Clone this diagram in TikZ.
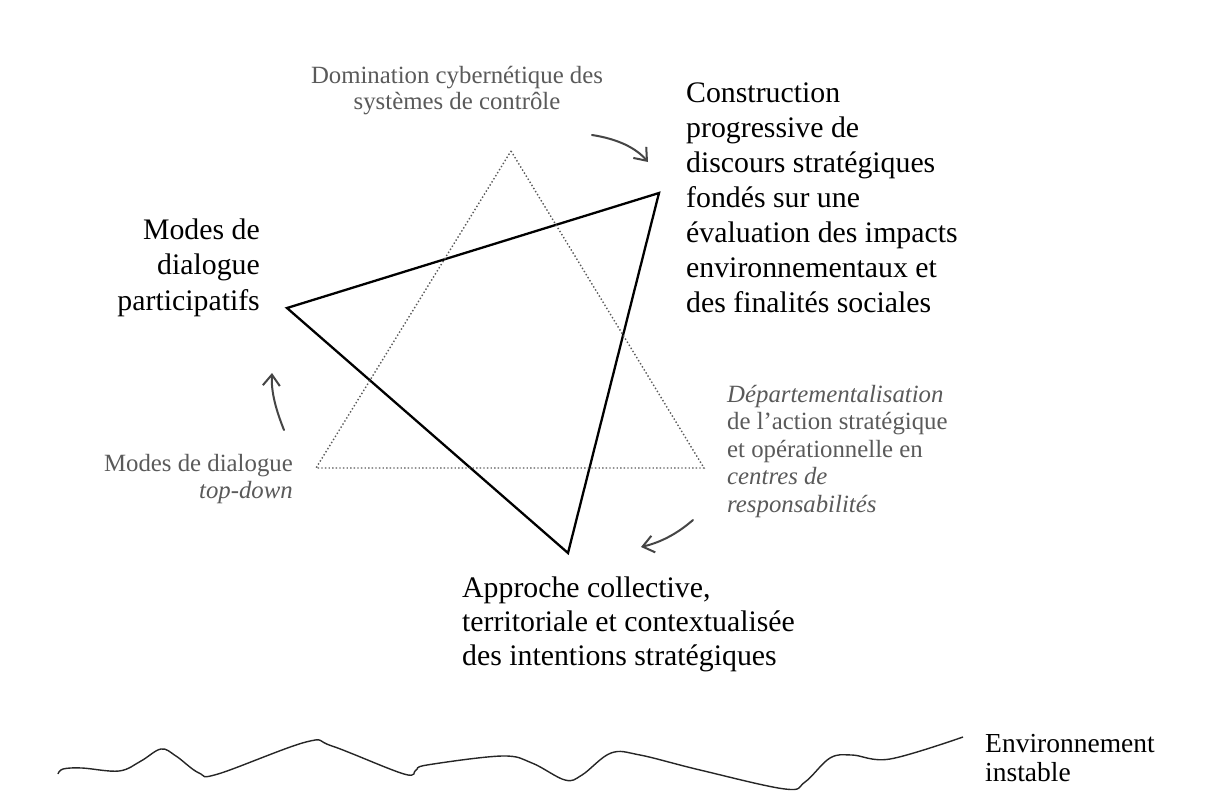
\documentclass[tikz,border=0pt]{standalone}
\usepackage{fontspec}
\setmainfont{Liberation Serif}
\usetikzlibrary{arrows.meta}
\definecolor{softgray}{HTML}{5A5A5A}
\definecolor{arrowgray}{HTML}{454545}
\tikzset{
  mainlabel/.style={inner sep=0pt, text=black, font=\fontsize{29.8}{35}\selectfont},
  sidelabel/.style={inner sep=0pt, text=softgray, font=\fontsize{24.8}{27}\selectfont},
  solidtri/.style={draw=black, line width=2.3pt, line join=miter},
  dottedtri/.style={draw=softgray, line width=1.4pt, dash pattern=on 1.4pt off 2.2pt},
  bentarrow/.style={draw=arrowgray, line width=2pt, line cap=round,
    -{Straight Barb[length=11pt,width=17pt,line width=2pt]}},
  wave/.style={draw=black!85, line width=1.4pt}
}
\begin{document}
\begin{tikzpicture}[x=1pt,y=-1pt]
\useasboundingbox (0,0) rectangle (1217,803);
\fill[white] (0,0) rectangle (1217,803);

% solid triangle
\coordinate (sA) at (287,308);
\coordinate (sB) at (659,193);
\coordinate (sC) at (568,553);
\draw[solidtri] (sA) -- (sB) -- (sC) -- cycle;

% dotted triangle
\coordinate (dA) at (511,151);
\coordinate (dB) at (704,468);
\coordinate (dC) at (316,468);
\draw[dottedtri] (dA) -- (dB) -- (dC) -- cycle;

% labels (base anchor = baseline of the last line)
\node[sidelabel, anchor=base, align=center, font=\fontsize{24.8}{26}\selectfont] (domin) at (457,109)
  {Domination cybernétique des\\systèmes de contrôle};
\node[mainlabel, anchor=base west, align=left] (constr) at (686,312)
  {Construction\\progressive de\\discours stratégiques\\fondés sur une\\évaluation des impacts\\environnementaux et\\des finalités sociales};
\node[mainlabel, anchor=base east, align=right, font=\fontsize{29.8}{35.5}\selectfont] (particip) at (260,310)
  {Modes de\\dialogue\\participatifs};
\node[sidelabel, anchor=base east, align=right] (topdown) at (293,498)
  {Modes de dialogue\\\textit{top-down}};
\node[sidelabel, anchor=base west, align=left, font=\fontsize{24.8}{27.5}\selectfont] (depart) at (727,512)
  {\textit{Départementalisation}\\de l’action stratégique\\et opérationnelle en\\\textit{centres de}\\\textit{responsabilités}};
\node[mainlabel, anchor=base west, align=left, font=\fontsize{29.8}{34}\selectfont] (approche) at (462,665)
  {Approche collective,\\territoriale et contextualisée\\des intentions stratégiques};
\node[mainlabel, anchor=base west, align=left, font=\fontsize{27.5}{29}\selectfont] (envir) at (985,781)
  {Environnement\\instable};

% curved arrows
\coordinate (a1s) at (592,135);
\coordinate (a1e) at (648,162);
\draw[bentarrow] (a1s) .. controls (618,139) and (636,148) .. (a1e);
\coordinate (a2s) at (284,430);
\coordinate (a2e) at (272,373);
\draw[bentarrow] (a2s) .. controls (276,410) and (271,392) .. (a2e);
\coordinate (a3s) at (693,520);
\coordinate (a3e) at (641,547);
\draw[bentarrow] (a3s) .. controls (678,533) and (662,542) .. (a3e);

% wavy ground line
\draw[wave] plot[smooth, tension=0.6] coordinates {
  (58,774) (63,769) (82,768) (119,771) (141,761) (161,749) (176,756) (199,773)
  (218,774) (306,742) (332,746) (404,774) (416,770) (427,765) (502,756)
  (532,763) (565,780) (582,775) (611,753) (640,755) (700,770)
  (785,789) (805,782) (830,758) (852,755) (890,759) (963,737)};
\end{tikzpicture}
\end{document}
